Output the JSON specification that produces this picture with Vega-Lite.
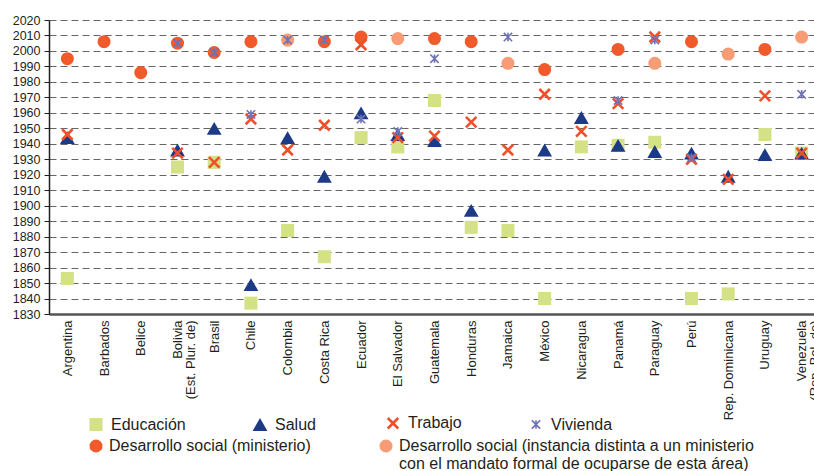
{
  "$schema": "https://vega.github.io/schema/vega-lite/v6.json",
  "width": 765,
  "height": 294,
  "autosize": "none",
  "padding": {"left": 49, "top": 20, "right": 0, "bottom": 157},
  "background": "white",
  "config": {"view": {"stroke": null}, "font": "Liberation Sans"},
  "data": {"values": [
    {"pais": "Argentina", "serie": "Desarrollo social (ministerio)", "anio": 1995},
    {"pais": "Barbados", "serie": "Desarrollo social (ministerio)", "anio": 2006},
    {"pais": "Belice", "serie": "Desarrollo social (ministerio)", "anio": 1986},
    {"pais": "Bolivia (Est. Plur. de)", "serie": "Desarrollo social (ministerio)", "anio": 2005},
    {"pais": "Brasil", "serie": "Desarrollo social (ministerio)", "anio": 1999},
    {"pais": "Chile", "serie": "Desarrollo social (ministerio)", "anio": 2006},
    {"pais": "Costa Rica", "serie": "Desarrollo social (ministerio)", "anio": 2006},
    {"pais": "Ecuador", "serie": "Desarrollo social (ministerio)", "anio": 2009},
    {"pais": "Guatemala", "serie": "Desarrollo social (ministerio)", "anio": 2008},
    {"pais": "Honduras", "serie": "Desarrollo social (ministerio)", "anio": 2006},
    {"pais": "México", "serie": "Desarrollo social (ministerio)", "anio": 1988},
    {"pais": "Panamá", "serie": "Desarrollo social (ministerio)", "anio": 2001},
    {"pais": "Perú", "serie": "Desarrollo social (ministerio)", "anio": 2006},
    {"pais": "Uruguay", "serie": "Desarrollo social (ministerio)", "anio": 2001},
    {"pais": "Colombia", "serie": "Desarrollo social (instancia distinta a un ministerio con el mandato formal de ocuparse de esta área)", "anio": 2007},
    {"pais": "El Salvador", "serie": "Desarrollo social (instancia distinta a un ministerio con el mandato formal de ocuparse de esta área)", "anio": 2008},
    {"pais": "Jamaica", "serie": "Desarrollo social (instancia distinta a un ministerio con el mandato formal de ocuparse de esta área)", "anio": 1992},
    {"pais": "Paraguay", "serie": "Desarrollo social (instancia distinta a un ministerio con el mandato formal de ocuparse de esta área)", "anio": 1992},
    {"pais": "Rep. Dominicana", "serie": "Desarrollo social (instancia distinta a un ministerio con el mandato formal de ocuparse de esta área)", "anio": 1998},
    {"pais": "Venezuela (Rep. Bol. de)", "serie": "Desarrollo social (instancia distinta a un ministerio con el mandato formal de ocuparse de esta área)", "anio": 2009},
    {"pais": "Argentina", "serie": "Educación", "anio": 1853},
    {"pais": "Bolivia (Est. Plur. de)", "serie": "Educación", "anio": 1925},
    {"pais": "Brasil", "serie": "Educación", "anio": 1928},
    {"pais": "Chile", "serie": "Educación", "anio": 1837},
    {"pais": "Colombia", "serie": "Educación", "anio": 1884},
    {"pais": "Costa Rica", "serie": "Educación", "anio": 1867},
    {"pais": "Ecuador", "serie": "Educación", "anio": 1944},
    {"pais": "El Salvador", "serie": "Educación", "anio": 1938},
    {"pais": "Guatemala", "serie": "Educación", "anio": 1968},
    {"pais": "Honduras", "serie": "Educación", "anio": 1886},
    {"pais": "Jamaica", "serie": "Educación", "anio": 1884},
    {"pais": "México", "serie": "Educación", "anio": 1840},
    {"pais": "Nicaragua", "serie": "Educación", "anio": 1938},
    {"pais": "Panamá", "serie": "Educación", "anio": 1939},
    {"pais": "Paraguay", "serie": "Educación", "anio": 1941},
    {"pais": "Perú", "serie": "Educación", "anio": 1840},
    {"pais": "Rep. Dominicana", "serie": "Educación", "anio": 1843},
    {"pais": "Uruguay", "serie": "Educación", "anio": 1946},
    {"pais": "Venezuela (Rep. Bol. de)", "serie": "Educación", "anio": 1934},
    {"pais": "Argentina", "serie": "Salud", "anio": 1944},
    {"pais": "Bolivia (Est. Plur. de)", "serie": "Salud", "anio": 1936},
    {"pais": "Brasil", "serie": "Salud", "anio": 1950},
    {"pais": "Chile", "serie": "Salud", "anio": 1849},
    {"pais": "Colombia", "serie": "Salud", "anio": 1944},
    {"pais": "Costa Rica", "serie": "Salud", "anio": 1919},
    {"pais": "Ecuador", "serie": "Salud", "anio": 1960},
    {"pais": "El Salvador", "serie": "Salud", "anio": 1946},
    {"pais": "Guatemala", "serie": "Salud", "anio": 1942},
    {"pais": "Honduras", "serie": "Salud", "anio": 1897},
    {"pais": "México", "serie": "Salud", "anio": 1936},
    {"pais": "Nicaragua", "serie": "Salud", "anio": 1957},
    {"pais": "Panamá", "serie": "Salud", "anio": 1939},
    {"pais": "Paraguay", "serie": "Salud", "anio": 1935},
    {"pais": "Perú", "serie": "Salud", "anio": 1934},
    {"pais": "Rep. Dominicana", "serie": "Salud", "anio": 1919},
    {"pais": "Uruguay", "serie": "Salud", "anio": 1933},
    {"pais": "Venezuela (Rep. Bol. de)", "serie": "Salud", "anio": 1934},
    {"pais": "Argentina", "serie": "Trabajo", "anio": 1946},
    {"pais": "Bolivia (Est. Plur. de)", "serie": "Trabajo", "anio": 1934},
    {"pais": "Brasil", "serie": "Trabajo", "anio": 1928},
    {"pais": "Chile", "serie": "Trabajo", "anio": 1956},
    {"pais": "Colombia", "serie": "Trabajo", "anio": 1936},
    {"pais": "Costa Rica", "serie": "Trabajo", "anio": 1952},
    {"pais": "Ecuador", "serie": "Trabajo", "anio": 2004},
    {"pais": "El Salvador", "serie": "Trabajo", "anio": 1944},
    {"pais": "Guatemala", "serie": "Trabajo", "anio": 1945},
    {"pais": "Honduras", "serie": "Trabajo", "anio": 1954},
    {"pais": "Jamaica", "serie": "Trabajo", "anio": 1936},
    {"pais": "México", "serie": "Trabajo", "anio": 1972},
    {"pais": "Nicaragua", "serie": "Trabajo", "anio": 1948},
    {"pais": "Panamá", "serie": "Trabajo", "anio": 1966},
    {"pais": "Paraguay", "serie": "Trabajo", "anio": 2009},
    {"pais": "Perú", "serie": "Trabajo", "anio": 1930},
    {"pais": "Rep. Dominicana", "serie": "Trabajo", "anio": 1917},
    {"pais": "Uruguay", "serie": "Trabajo", "anio": 1971},
    {"pais": "Venezuela (Rep. Bol. de)", "serie": "Trabajo", "anio": 1934},
    {"pais": "Bolivia (Est. Plur. de)", "serie": "Vivienda", "anio": 2005},
    {"pais": "Brasil", "serie": "Vivienda", "anio": 1999},
    {"pais": "Chile", "serie": "Vivienda", "anio": 1959},
    {"pais": "Colombia", "serie": "Vivienda", "anio": 2007},
    {"pais": "Costa Rica", "serie": "Vivienda", "anio": 2007},
    {"pais": "Ecuador", "serie": "Vivienda", "anio": 1956},
    {"pais": "El Salvador", "serie": "Vivienda", "anio": 1948},
    {"pais": "Guatemala", "serie": "Vivienda", "anio": 1995},
    {"pais": "Jamaica", "serie": "Vivienda", "anio": 2009},
    {"pais": "Panamá", "serie": "Vivienda", "anio": 1968},
    {"pais": "Paraguay", "serie": "Vivienda", "anio": 2007},
    {"pais": "Perú", "serie": "Vivienda", "anio": 1931},
    {"pais": "Venezuela (Rep. Bol. de)", "serie": "Vivienda", "anio": 1972}
  ]},
  "encoding": {
    "x": {
      "field": "pais", "type": "nominal",
      "scale": {"domain": ["Argentina", "Barbados", "Belice", "Bolivia (Est. Plur. de)", "Brasil", "Chile", "Colombia", "Costa Rica", "Ecuador", "El Salvador", "Guatemala", "Honduras", "Jamaica", "México", "Nicaragua", "Panamá", "Paraguay", "Perú", "Rep. Dominicana", "Uruguay", "Venezuela (Rep. Bol. de)"], "paddingInner": 0, "paddingOuter": 0, "rangeMax": 771},
      "axis": {"title": null, "labelAngle": -90, "ticks": false, "labelPadding": 6, "labelFontSize": 13, "labelColor": "#231f20", "labelLineHeight": 13, "labelLimit": 300, "domainColor": "#555555", "domainWidth": 2.5, "grid": false,
        "labelExpr": "indexof(datum.label, ' (') > 0 ? [slice(datum.label, 0, indexof(datum.label, ' (')), slice(datum.label, indexof(datum.label, ' (') + 1)] : datum.label"}
    },
    "y": {
      "field": "anio", "type": "quantitative",
      "scale": {"domain": [1830, 2020], "nice": false, "zero": false},
      "axis": {"title": null, "values": [1830, 1840, 1850, 1860, 1870, 1880, 1890, 1900, 1910, 1920, 1930, 1940, 1950, 1960, 1970, 1980, 1990, 2000, 2010, 2020], "format": "d", "labelFontSize": 12.5, "labelColor": "#231f20", "labelPadding": 4, "tickSize": 5, "tickColor": "#231f20", "domainColor": "#231f20", "domainWidth": 1.5, "grid": true, "gridColor": "#666666", "gridDash": [7, 4], "gridWidth": 1.2}
    }
  },
  "layer": [
    {
      "transform": [{"filter": {"field": "serie", "oneOf": ["Desarrollo social (ministerio)", "Desarrollo social (instancia distinta a un ministerio con el mandato formal de ocuparse de esta área)"]}}],
      "mark": {"type": "point", "filled": true, "shape": "circle", "size": 170, "opacity": 1},
      "encoding": {
        "fill": {"field": "serie", "type": "nominal",
          "scale": {"domain": ["Desarrollo social (ministerio)", "Desarrollo social (instancia distinta a un ministerio con el mandato formal de ocuparse de esta área)"], "range": ["#f15a2b", "#f79c74"]},
          "legend": {"title": null, "orient": "none", "legendX": 39, "legendY": 418, "columns": 2, "columnPadding": 67, "labelFontSize": 16, "labelColor": "#231f20", "labelOffset": 5, "labelLimit": 600, "symbolSize": 170, "symbolType": "circle", "symbolStrokeWidth": 0, "labelLineHeight": 18,
            "labelExpr": "indexof(datum.label, ' con el') > 0 ? [slice(datum.label, 0, indexof(datum.label, ' con el')), slice(datum.label, indexof(datum.label, ' con el') + 1)] : [datum.label, '']"}
        }
      }
    },
    {
      "transform": [{"filter": {"field": "serie", "oneOf": ["Educación", "Salud", "Trabajo", "Vivienda"]}}],
      "mark": {"type": "point", "filled": true, "opacity": 1},
      "encoding": {
        "fill": {"field": "serie", "type": "nominal",
          "scale": {"domain": ["Educación", "Salud", "Trabajo", "Vivienda"], "range": ["#d4e285", "#1d3a87", "#f0502a", "#6e72b6"]},
          "legend": {"title": null, "orient": "none", "legendX": 39, "legendY": 395, "columns": 4, "columnPadding": 66, "labelFontSize": 16, "labelColor": "#231f20", "labelOffset": 7, "labelLimit": 400}},
        "stroke": {"field": "serie", "type": "nominal",
          "scale": {"domain": ["Educación", "Salud", "Trabajo", "Vivienda"], "range": ["transparent", "transparent", "#f0502a", "#6e72b6"]},
          "legend": {"title": null, "orient": "none", "legendX": 39, "legendY": 395, "columns": 4, "columnPadding": 66, "labelFontSize": 16, "labelColor": "#231f20", "labelOffset": 7, "labelLimit": 400}},
        "shape": {"field": "serie", "type": "nominal",
          "scale": {"domain": ["Educación", "Salud", "Trabajo", "Vivienda"], "range": ["square", "triangle-up", "M-1,-1L1,1M1,-1L-1,1", "M-1,-1L1,1M1,-1L-1,1M0,-1L0,1"]},
          "legend": {"title": null, "orient": "none", "legendX": 39, "legendY": 395, "columns": 4, "columnPadding": 66, "labelFontSize": 16, "labelColor": "#231f20", "labelOffset": 7, "labelLimit": 400}},
        "size": {"field": "serie", "type": "nominal",
          "scale": {"type": "ordinal", "domain": ["Educación", "Salud", "Trabajo", "Vivienda"], "range": [170, 220, 110, 70]},
          "legend": {"title": null, "orient": "none", "legendX": 39, "legendY": 395, "columns": 4, "columnPadding": 66, "labelFontSize": 16, "labelColor": "#231f20", "labelOffset": 7, "labelLimit": 400}},
        "strokeWidth": {"field": "serie", "type": "nominal",
          "scale": {"type": "ordinal", "domain": ["Educación", "Salud", "Trabajo", "Vivienda"], "range": [0, 0, 2.6, 1.6]},
          "legend": {"title": null, "orient": "none", "legendX": 39, "legendY": 395, "columns": 4, "columnPadding": 66, "labelFontSize": 16, "labelColor": "#231f20", "labelOffset": 7, "labelLimit": 400}}
      }
    }
  ],
  "resolve": {"scale": {"fill": "independent", "stroke": "independent", "shape": "independent", "size": "independent", "strokeWidth": "independent"}}
}
